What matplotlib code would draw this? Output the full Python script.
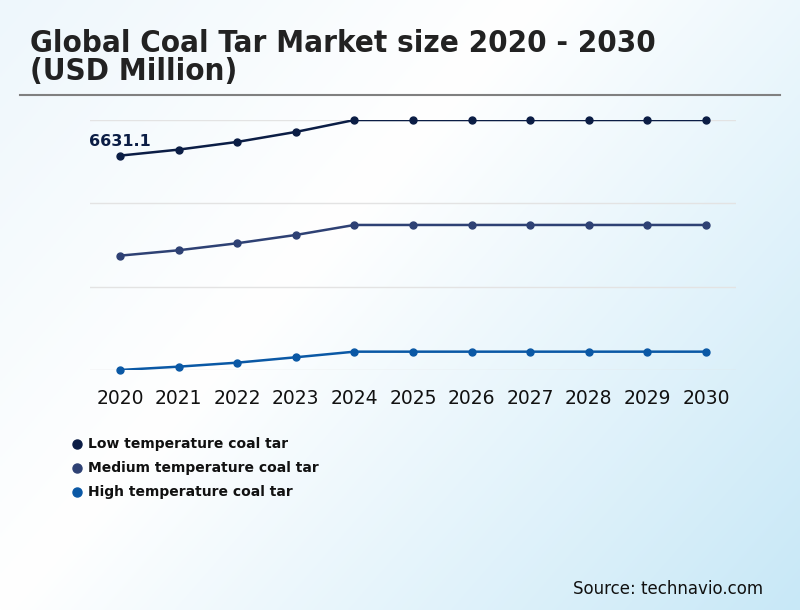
import matplotlib
matplotlib.use('Agg')
import matplotlib.pyplot as plt
import numpy as np

plt.rcParams['font.family'] = 'DejaVu Sans'

# data
years = [2020, 2021, 2022, 2023, 2024, 2025, 2026, 2027, 2028, 2029, 2030]
low_temp = [6631.1, 6811, 7042, 7342, 7700, 7700, 7700, 7700, 7700, 7700, 7700]
medium_temp = [3630, 3792, 4002, 4251, 4551, 4551, 4551, 4551, 4551, 4551, 4551]
high_temp = [200, 300, 420, 582, 750, 750, 750, 750, 750, 750, 750]
series_names = ['Low temperature coal tar', 'Medium temperature coal tar',
                'High temperature coal tar']
grid_values = [200, 2700, 5200, 7700]

colors = ['#0b1d45', '#2e4174', '#0a58a5']

fig = plt.figure(figsize=(8, 6.1), dpi=100)

# fond en degrade (diagonal, bleu pale -> blanc -> bleu)
bg = fig.add_axes([0, 0, 1, 1], zorder=-10)
xx, yy = np.meshgrid(np.linspace(0, 1, 300), np.linspace(0, 1, 300))
d = 0.6 * xx + 0.4 * yy
c_start = np.array([0xee, 0xf7, 0xfc]) / 255
c_mid = np.array([1.0, 1.0, 1.0])
c_end = np.array([0xc8, 0xe8, 0xf7]) / 255
img = np.zeros(d.shape + (3,))
for k in range(3):
    img[..., k] = np.interp(d, [0, 0.4, 1], [c_start[k], c_mid[k], c_end[k]])
bg.imshow(img, extent=[0, 1, 0, 1], origin='upper', aspect='auto')
bg.set_axis_off()

# titre
fig.text(30 / 800, 1 - 52 / 610, 'Global Coal Tar Market size 2020 - 2030',
         fontsize=22.4, fontweight='bold', color='#222222', fontstretch='condensed')
fig.text(30 / 800, 1 - 80 / 610, '(USD Million)',
         fontsize=22.4, fontweight='bold', color='#222222', fontstretch='condensed')
fig.add_artist(plt.Line2D([20 / 800, 780 / 800], [1 - 95 / 610, 1 - 95 / 610],
                          color='#808080', lw=1.5))

ax = fig.add_axes([90 / 800, 1 - 370 / 610, 646 / 800, 250 / 610])
ax.patch.set_alpha(0)
for v in grid_values:
    ax.axhline(v, color='#e3e3e3', lw=1, zorder=0)

for vals, col in zip([low_temp, medium_temp, high_temp], colors):
    ax.plot(years, vals, color=col, lw=1.8, zorder=3)
    ax.plot(years, vals, color=col, lw=0, marker='o', markersize=5,
            clip_on=False, zorder=4)

ax.set_xlim(2019.49, 2030.51)
ax.set_ylim(grid_values[0], grid_values[-1])
ax.set_xticks(years)
ax.set_xticklabels([str(y) for y in years], fontsize=13.5, color='#111111')
ax.tick_params(axis='x', length=0, pad=14)
ax.set_yticks([])
for s in ax.spines.values():
    s.set_visible(False)

ax.annotate(f'{low_temp[0]}', (years[0], low_temp[0]), xytext=(-22, 4.5),
            textcoords='offset points', fontsize=11.5, fontweight='bold',
            color=colors[0], va='bottom', ha='left')

# legende
for i, (name, col) in enumerate(zip(series_names, colors)):
    y = 1 - (444 + i * 24) / 610
    fig.add_artist(plt.Line2D([77 / 800], [y], marker='o', markersize=6.5,
                              color=col, lw=0))
    fig.text(88 / 800, y, name, fontsize=10, fontweight='bold',
             color='#111111', va='center')

fig.text(763 / 800, 1 - 589 / 610, 'Source: technavio.com', fontsize=12,
         color='#111111', ha='right', va='center')

fig.savefig('out.png', dpi=100)
